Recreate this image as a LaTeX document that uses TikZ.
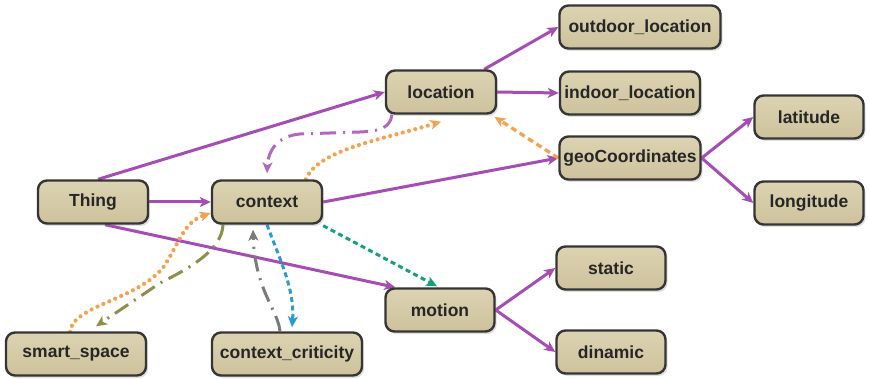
\documentclass[tikz,border=0pt]{standalone}
\usepackage{fontspec}
\setmainfont{Liberation Sans}
\usetikzlibrary{arrows.meta,shadows}
\definecolor{nodefill}{HTML}{CDC29C}
\definecolor{nodetop}{HTML}{DCD3B2}
\definecolor{nodeborder}{HTML}{353535}
\definecolor{purp}{HTML}{A54DB4}
\definecolor{orng}{HTML}{F7A04E}
\definecolor{grn}{HTML}{14A07C}
\definecolor{blu}{HTML}{2C9AD0}
\definecolor{olv}{HTML}{8E8F4A}
\definecolor{gry}{HTML}{7A7A7A}
\pgfdeclarelayer{back}
\pgfdeclarelayer{bg}
\pgfsetlayers{back,bg,main}
\tikzset{
  box/.style={draw=nodeborder, line width=2.4pt, rounded corners=9pt,
    top color=nodetop, bottom color=nodefill, minimum height=43pt,
    inner sep=0pt, text=black!85,
    font=\fontsize{17.5}{19}\selectfont\bfseries,
    drop shadow={opacity=0.25, shadow xshift=2pt, shadow yshift=-2.5pt}},
  tip/.style={-{Stealth[length=11pt,width=10pt,inset=3pt]}},
  rel/.style={tip, draw=purp, line width=3pt},
  dotline/.style={-{Stealth[length=11pt,width=10pt,inset=3pt,line width=0pt]}, draw=orng, line width=4.2pt, line cap=round, dash pattern=on 0pt off 6.5pt},
  dashdot/.style={tip, line width=3pt, dash pattern=on 16pt off 7pt on 2pt off 7pt},
  dashline/.style={tip, line width=3pt, dash pattern=on 5pt off 3.5pt},
}
\begin{document}
\begin{tikzpicture}[x=1pt,y=-1pt]
\begin{pgfonlayer}{back}
\fill[white] (0,0) rectangle (869,379);
\end{pgfonlayer}
\useasboundingbox (0,0) rectangle (869,379);
% nodes
\node[box, minimum width=110pt] (thing) at (93,202) {Thing};
\node[box, minimum width=110pt] (context) at (267,202) {context};
\node[box, minimum width=110pt] (location) at (441,92) {location};
\node[box, minimum width=161pt] (outdoor) at (640,27) {outdoor\_location};
\node[box, minimum width=140pt] (indoor) at (630,93) {indoor\_location};
\node[box, minimum width=141pt] (geo) at (630,158) {geoCoordinates};
\node[box, minimum width=109pt] (lat) at (809,117) {latitude};
\node[box, minimum width=109pt] (lon) at (809,203) {longitude};
\node[box, minimum width=109pt] (motion) at (440,310) {motion};
\node[box, minimum width=109pt] (static) at (611,268) {static};
\node[box, minimum width=109pt] (dinamic) at (611,352) {dinamic};
\node[box, minimum width=140pt] (smart) at (76,354) {smart\_space};
\node[box, minimum width=150pt] (crit) at (287,354) {context\_criticity};
\begin{pgfonlayer}{bg}
% solid relations
\draw[rel] ([xshift=5pt]thing.north) -- (location.west);
\draw[rel] (thing.east) -- (context.west);
\draw[rel] ([xshift=12pt]thing.south) -- ([xshift=11pt]motion.north west);
\draw[rel] (context.east) -- (geo.west);
\draw[rel] ([xshift=-13pt]location.north east) -- (outdoor.west);
\draw[rel] (location.east) -- (indoor.west);
\draw[rel] (geo.east) -- (lat.west);
\draw[rel] (geo.east) -- (lon.west);
\draw[rel] (motion.east) -- (static.west);
\draw[rel] (motion.east) -- (dinamic.west);
% dashed / dotted relations
\draw[tip, draw=orng, line width=3.2pt, dash pattern=on 6pt off 4pt, shorten >=4pt]
  (geo.west) -- ([xshift=-6pt]location.south east);
\draw[dotline] ([xshift=95pt]context.north west) .. controls (318,150) and (380,140) .. ([yshift=-7pt]location.south);
\draw[dashdot, draw=purp!85]
  ([xshift=-49pt]location.south) .. controls (390,128) and (380,131) .. (360,132)
  -- (300,134) .. controls (278,136) and (268,150) .. ([yshift=6pt]context.north);
\draw[dashline, draw=grn]
  ([yshift=-1pt]context.south east) -- ([yshift=1pt,xshift=-3pt]motion.north);
\draw[dotline] (70,332) .. controls (72,305) and (140,300) .. (165,265)
  .. controls (180,240) and (185,222) .. ([yshift=-11pt]context.west);
\draw[dashdot, draw=olv]
  ([xshift=-44pt]context.south) .. controls (222,250) and (190,268) .. (160,283) -- ([xshift=20pt,yshift=5pt]smart.north);
\draw[dashdot, draw=gry]
  ([xshift=-7pt]crit.north) .. controls (278,310) and (255,290) .. ([xshift=-14pt,yshift=-5pt]context.south);
\draw[dashline, draw=blu]
  (context.south) .. controls (280,260) and (295,290) .. ([xshift=5pt,yshift=4pt]crit.north);
\end{pgfonlayer}
\end{tikzpicture}
\end{document}
